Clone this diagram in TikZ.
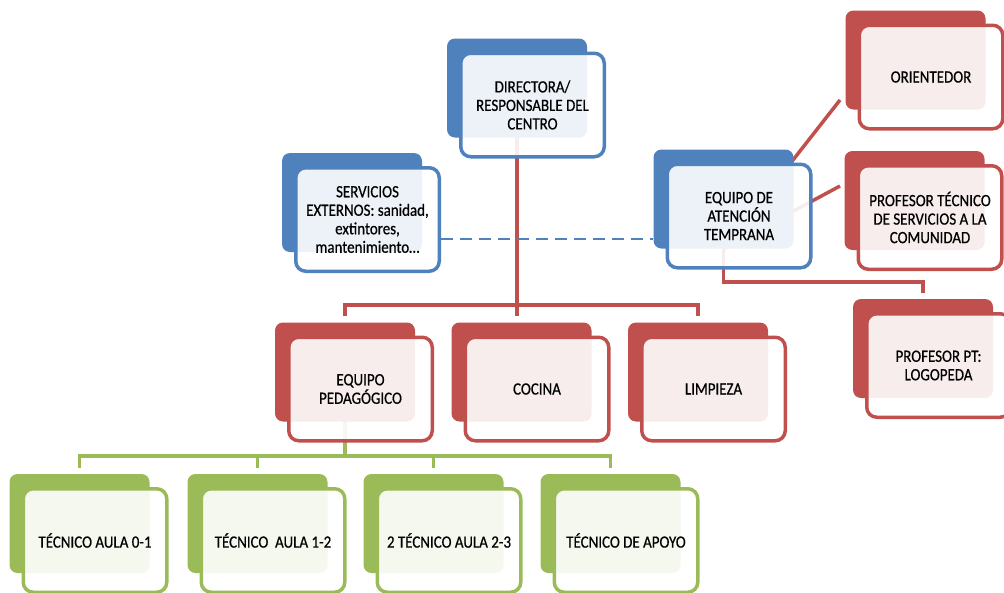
\documentclass[tikz,border=0pt]{standalone}
\usepackage{fontspec}
\setmainfont{Carlito}[FakeStretch=0.87,FakeBold=0.6]
\definecolor{cblue}{HTML}{4F81BD}
\definecolor{cred}{HTML}{C0504D}
\definecolor{cgreen}{HTML}{9BBB59}
\pgfdeclarelayer{bg}
\pgfsetlayers{bg,main}
\tikzset{
  backbox/.style={fill=#1, rounded corners=8pt, inner sep=0pt, draw=none,
    minimum width=140pt, minimum height=99pt},
  frontbox/.style={draw=#1, line width=3.5pt, fill=white, fill opacity=0.9,
    text opacity=1, rounded corners=10pt, inner sep=2pt, align=center,
    minimum width=143.5pt, minimum height=103.5pt,
    font=\fontsize{17.2}{18.5}\selectfont},
  conn/.style={draw=#1, line width=3.5pt},
  dashconn/.style={draw=cblue, line width=1.5pt, dash pattern=on 12pt off 7pt},
}
\newcommand\orgnode[4]{%
  \node[backbox=#2] (#1b) at (#3) {};
  \node[frontbox=#2] (#1) at ([shift={(15.5,17)}]#1b.center) {#4};
}
\begin{document}
\begin{tikzpicture}[x=1pt,y=-1pt]
\useasboundingbox (0,0) rectangle (1004,592);
% nodes
\orgnode{dir}{cblue}{517,88}{DIRECTORA/\\RESPONSABLE DEL\\CENTRO}
\orgnode{srv}{cblue}{352,202.5}{SERVICIOS\\EXTERNOS: sanidad,\\extintores,\\mantenimiento…}
\orgnode{eat}{cblue}{723.5,199}{EQUIPO DE\\ATENCIÓN\\TEMPRANA}
\orgnode{ori}{cred}{915.5,60}{ORIENTEDOR}
\orgnode{pts}{cred}{914.5,200.5}{PROFESOR TÉCNICO\\DE SERVICIOS A LA\\COMUNIDAD}
\orgnode{ppt}{cred}{923,348.5}{PROFESOR PT:\\LOGOPEDA}
\orgnode{eped}{cred}{345,372}{EQUIPO\\PEDAGÓGICO}
\orgnode{coc}{cred}{521.5,372}{COCINA}
\orgnode{lim}{cred}{698,372}{LIMPIEZA}
\orgnode{ga}{cgreen}{79.5,523.5}{TÉCNICO AULA 0-1}
\orgnode{gb}{cgreen}{257.5,523.5}{TÉCNICO\ \ AULA 1-2}
\orgnode{gc}{cgreen}{433.5,523.5}{2 TÉCNICO AULA 2-3}
\orgnode{gd}{cgreen}{610.5,523.5}{TÉCNICO DE APOYO}
% helper coordinates
\coordinate (ybusA) at (0,305);
\coordinate (ybusB) at (0,456);
\coordinate (ybusC) at (0,282);
\coordinate (ydash) at (0,239);
\coordinate (oriend) at (840,100);
\coordinate (ptsend) at (840,186);
% connectors
\begin{pgfonlayer}{bg}
\draw[conn=cred] (dirb.center) -- ([yshift=6pt]dirb.center |- cocb.north);
\draw[conn=cred] ([yshift=6pt]epedb.north) -- (epedb.north |- ybusA)
   -- (limb.north |- ybusA) -- ([yshift=6pt]limb.north);
\draw[conn=cgreen] (epedb.center) -- (epedb.center |- ybusB);
\draw[conn=cgreen] ([yshift=6pt]gab.north) -- (gab.north |- ybusB)
   -- (gdb.north |- ybusB) -- ([yshift=6pt]gdb.north);
\draw[conn=cgreen] (gbb.north |- ybusB) -- ([yshift=6pt]gbb.north);
\draw[conn=cgreen] (gcb.north |- ybusB) -- ([yshift=6pt]gcb.north);
\draw[conn=cred] (eatb.center) -- (eatb.center |- ybusC)
   -- (pptb.north |- ybusC) -- ([yshift=6pt]pptb.north);
\draw[conn=cred] (eatb.south) -- (oriend);
\draw[conn=cred] (eatb.south) -- (ptsend);
\draw[dashconn] (srv.east |- ydash) -- (eatb.west |- ydash);
\end{pgfonlayer}
\end{tikzpicture}
\end{document}
